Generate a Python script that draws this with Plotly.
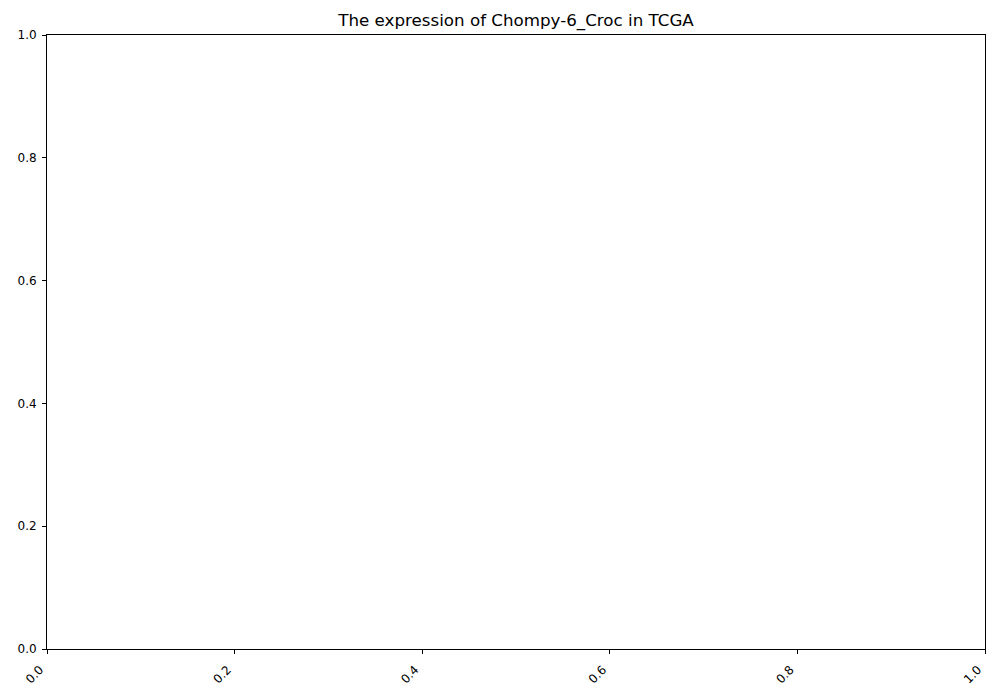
import plotly.graph_objects as go

# The reference chart contains no data marks: empty series
categories = []
values = []
x_ticks = [0.0, 0.2, 0.4, 0.6, 0.8, 1.0]
y_ticks = [0.0, 0.2, 0.4, 0.6, 0.8, 1.0]
title_text = "The expression of Chompy-6_Croc in TCGA"

fig = go.Figure()
fig.add_trace(go.Scatter(x=categories, y=values, mode="markers", showlegend=False))

axis_common = dict(
    range=[0, 1],
    showgrid=False,
    zeroline=False,
    showline=True,
    linecolor="black",
    linewidth=1,
    mirror=True,
    ticks="outside",
    ticklen=4,
    tickwidth=1,
    tickcolor="black",
    tickformat=".1f",
    automargin=False,
    tickfont=dict(family="DejaVu Sans", size=12, color="black"),
)

fig.update_xaxes(tickvals=x_ticks, tickangle=-45, ticklabelshift=-7,
                 ticklabelstandoff=4, **axis_common)
fig.update_yaxes(tickvals=y_ticks, ticklabelstandoff=3, **axis_common)

fig.update_layout(
    width=1000,
    height=700,
    margin=dict(l=47, r=15, t=35, b=51),
    paper_bgcolor="white",
    plot_bgcolor="white",
    title=dict(
        text=title_text,
        x=(47 + 985) / 2 / 1000,
        xanchor="center",
        y=1 - 20 / 700,
        yanchor="middle",
        yref="container",
        font=dict(family="DejaVu Sans", size=16.7, color="black"),
    ),
)

fig.write_html(
    "out.html",
    config={"displayModeBar": False},
    post_script="document.body.style.margin='0';document.body.style.overflow='hidden';",
)
